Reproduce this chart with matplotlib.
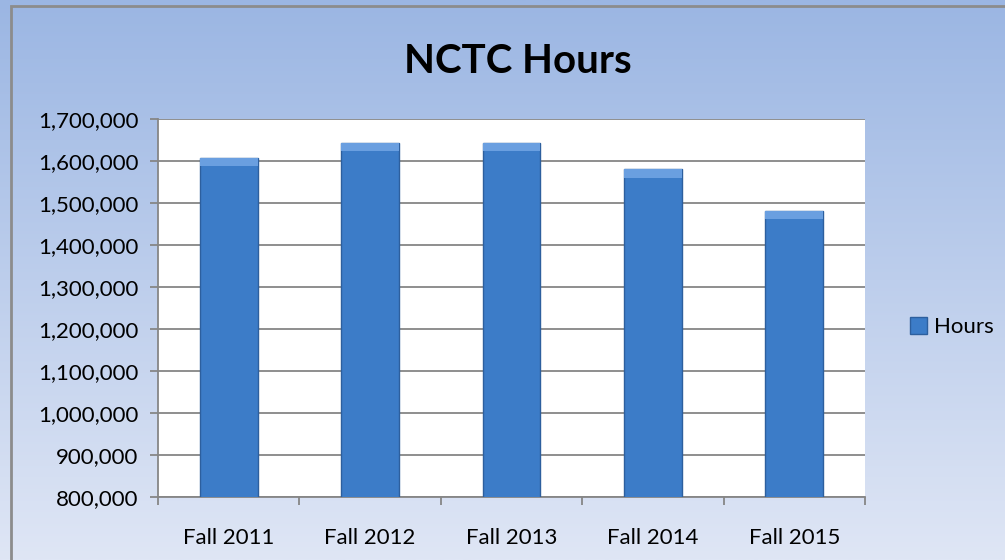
import numpy as np
import matplotlib.pyplot as plt
from matplotlib.patches import Rectangle
from matplotlib.ticker import FuncFormatter, MultipleLocator

categories = ["Fall 2011", "Fall 2012", "Fall 2013", "Fall 2014", "Fall 2015"]
hours = [1608000, 1644000, 1644000, 1580000, 1481000]

plt.rcParams['font.family'] = ['Lato', 'DejaVu Sans']

fig = plt.figure(figsize=(10.05, 5.6), dpi=100)

# gradient background of the chart area
bg = fig.add_axes([0, 0, 1, 1], zorder=0)
grad = np.linspace(0, 1, 256).reshape(-1, 1)
top = np.array([0x9b, 0xb6, 0xe3]) / 255
bot = np.array([0xdf, 0xe6, 0xf5]) / 255
img = top + (bot - top) * grad[:, :, None]
bg.imshow(img, aspect='auto', extent=[0, 1, 0, 1])
bg.add_patch(Rectangle((0.011, -0.01), 1.0, 0.999, fill=False,
                       edgecolor='#8c8c8c', linewidth=2, transform=bg.transAxes))
bg.set_xlim(0, 1)
bg.set_ylim(0, 1)
bg.axis('off')

ax = fig.add_axes([158 / 1005, 63 / 560, 707 / 1005, 378 / 560], zorder=1)
ax.set_facecolor('white')
x = np.arange(len(categories))
ax.bar(x, hours, width=0.41, color='#3c7cc8', edgecolor='#2d5f9e',
       linewidth=1.0, zorder=3, label='Hours')
# lighter cap at the top of each bar
ax.bar(x, [20000] * len(x), bottom=np.array(hours) - 20000, width=0.41,
       color='#6a9fe0', linewidth=0, zorder=4)

ax.set_ylim(800000, 1700000)
ax.set_xlim(-0.5, len(categories) - 0.5)
ax.yaxis.set_major_locator(MultipleLocator(100000))
ax.yaxis.set_major_formatter(FuncFormatter(lambda v, p: f"{int(v):,}"))
ax.grid(axis='y', color='#868686', linewidth=1.3, zorder=1)
ax.set_xticks(x)
ax.set_xticklabels(categories)
ax.set_xticks(np.arange(-0.5, len(categories)), minor=True)
ax.tick_params(axis='x', which='major', length=0, pad=22, labelsize=16)
ax.tick_params(axis='x', which='minor', length=6, color='#868686', width=1.3)
ax.tick_params(axis='y', length=6, color='#868686', width=1.3, labelsize=16, pad=8)
for s in ['top', 'right']:
    ax.spines[s].set_visible(False)
for s in ['left', 'bottom']:
    ax.spines[s].set_color('#868686')
    ax.spines[s].set_linewidth(1.3)

fig.text(0.515, 0.89, "NCTC Hours", ha='center', va='center',
         fontsize=29, fontweight='bold')

ax.legend(handles=[Rectangle((0, 0), 1, 1, facecolor='#3c7cc8', edgecolor='#2d5f9e')],
          labels=['Hours'], loc='center left', bbox_to_anchor=(1.063, 0.45),
          frameon=False, fontsize=16, handlelength=0.8, handleheight=0.8,
          handletextpad=0.3, borderpad=0, borderaxespad=0)

fig.savefig("out.png", dpi=100)
